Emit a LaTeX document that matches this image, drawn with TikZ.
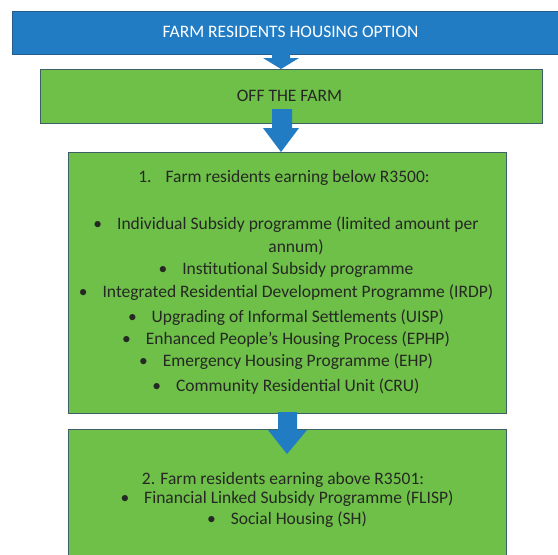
\documentclass[tikz,border=0pt]{standalone}
\usepackage{fontspec}
\setmainfont{Carlito}
\usetikzlibrary{calc}
\definecolor{barblue}{RGB}{33,124,196}
\definecolor{barline}{RGB}{38,92,140}
\definecolor{boxgreen}{RGB}{110,192,72}
\definecolor{boxline}{RGB}{60,96,100}
\definecolor{inktext}{RGB}{38,40,36}
\tikzset{
  titlebar/.style={draw=barline, line width=0.8pt, fill=barblue},
  greenbox/.style={draw=boxline, line width=0.9pt, fill=boxgreen},
  blockarrow/.style={fill=barblue, draw=none},
  boxtext/.style={text=inktext, align=center, inner sep=0pt, font=\fontsize{17.5}{21}\selectfont},
}
\newcommand{\itm}{\textbullet\hspace{15pt}}
\begin{document}
\begin{tikzpicture}[x=1pt,y=-1pt]
  \useasboundingbox (0,0) rectangle (558,555);
  \fill[white] (0,0) rectangle (558,555);

  % boxes
  \draw[titlebar] (12,11) rectangle (562,54);
  \node[text=white, inner sep=0pt, font=\fontsize{17.5}{21}\selectfont] (title) at (290.5,32) {FARM RESIDENTS HOUSING OPTION};

  \draw[greenbox] (40,69) rectangle (542,123);
  \node[boxtext] (off) at (289.5,96) {OFF THE FARM};

  \draw[greenbox] (68,152) rectangle (506,413);
  \draw[greenbox] (68,429) rectangle (506,562);

  % block arrows between the stages
  \fill[blockarrow] (272,48) -- (290,48) -- (290,58) -- (299,58) -- (281,69) -- (263,58) -- (272,58) -- cycle;
  \fill[blockarrow] (272,109) -- (292,109) -- (292,128) -- (299,128) -- (281,152) -- (263,128) -- (272,128) -- cycle;
  \fill[blockarrow] (278,412) -- (297,412) -- (297,430) -- (307,430) -- (287,454) -- (268,430) -- (278,430) -- cycle;

  % text of the lower-income stage
  \node[boxtext] (low0) at (284,178) {1.\hspace{14pt}Farm residents earning below R3500:};
  \node[boxtext] (low1) at (286,225) {\itm Individual Subsidy programme (limited amount per};
  \node[boxtext] (low1b) at (296,247) {annum)};
  \node[boxtext] (low2) at (286,270) {\itm Institutional Subsidy programme};
  \node[boxtext] (low3) at (286,293) {\itm Integrated Residential Development Programme (IRDP)};
  \node[boxtext] (low4) at (286,318) {\itm Upgrading of Informal Settlements (UISP)};
  \node[boxtext] (low5) at (286,340) {\itm Enhanced People’s Housing Process (EPHP)};
  \node[boxtext] (low6) at (286,362) {\itm Emergency Housing Programme (EHP)};
  \node[boxtext] (low7) at (286,387) {\itm Community Residential Unit (CRU)};

  % text of the higher-income stage
  \node[boxtext] (high0) at (283,480) {2. Farm residents earning above R3501:};
  \node[boxtext] (high1) at (287,499) {\itm Financial Linked Subsidy Programme (FLISP)};
  \node[boxtext] (high2) at (287,520) {\itm Social Housing (SH)};
\end{tikzpicture}
\end{document}
